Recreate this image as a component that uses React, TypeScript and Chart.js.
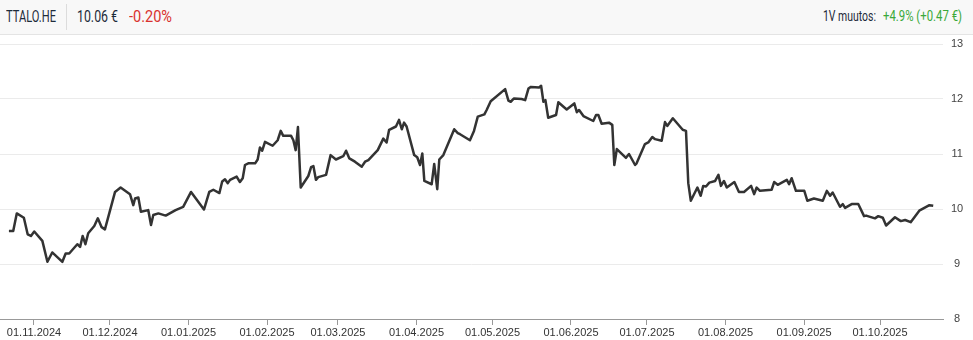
import React, { useEffect, useLayoutEffect, useRef } from "react";
import { Chart, registerables } from "chart.js";

Chart.register(...registerables);

// Day offsets from 01.11.2024 for each trading point shown
const days = [
  -9.9, -8.2, -6.8, -4.0, -2.5, -1.2, 0.1, 3.3, 5.3, 7.2, 11.2, 12.5, 13.9, 17.1, 18.2, 19.2, 20.3, 21.4, 23.8, 25.2,
  26.7, 28.0, 32.0, 34.2, 37.9, 39.2, 39.9, 41.2, 42.2, 45.1, 46.2, 47.1, 49.1, 52.0, 55.9, 58.9, 62.0, 67.1, 69.2, 70.8,
  73.2, 74.3, 75.4, 76.5, 77.4, 80.0, 81.3, 82.4, 83.3, 84.6, 87.3, 88.3, 89.2, 90.1, 91.2, 94.2, 96.2, 97.4, 98.4, 101.5,
  102.4, 103.3, 104.2, 105.3, 108.3, 109.4, 110.3, 111.3, 112.2, 115.3, 117.1, 119.2, 122.1, 123.2, 124.5, 126.7, 129.4, 130.7, 132.0, 135.7,
  137.9, 139.2, 140.2, 142.9, 144.1, 145.2, 146.1, 147.1, 150.1, 151.3, 152.4, 153.3, 154.1, 157.0, 158.0, 159.2, 160.0, 161.6, 165.9, 167.3,
  168.2, 172.1, 173.7, 175.2, 177.8, 178.7, 180.3, 186.0, 187.3, 188.2, 189.5, 192.5, 193.9, 195.2, 196.2, 199.4, 200.2, 201.1, 201.9, 203.0,
  206.1, 207.0, 210.3, 213.3, 214.3, 215.2, 216.9, 220.8, 221.9, 222.8, 224.1, 227.0, 228.3, 229.1, 230.1, 233.7, 234.9, 237.3, 237.9, 241.2,
  242.5, 244.1, 245.2, 247.8, 249.1, 250.0, 252.2, 256.1, 257.4, 258.3, 259.3, 261.9, 263.2, 264.2, 265.3, 266.6, 268.9, 270.2, 271.2, 272.4,
  273.5, 276.5, 278.3, 280.3, 283.1, 284.3, 285.3, 286.6, 291.2, 292.2, 293.6, 297.2, 298.1, 299.1, 300.8, 304.1, 305.3, 307.9, 311.4, 313.0,
  314.3, 315.3, 318.2, 319.3, 320.2, 322.8, 325.4, 327.7, 328.5, 332.0, 333.3, 335.1, 336.4, 339.9, 342.2, 343.9, 346.1, 349.5, 351.5, 353.5,
  355.0,
];

// Closing price, €
const prices = [
  9.60, 9.60, 9.92, 9.84, 9.54, 9.51, 9.59, 9.42, 9.04, 9.21, 9.04, 9.19, 9.19, 9.36, 9.31, 9.51, 9.36, 9.56, 9.69, 9.83,
  9.67, 9.63, 10.31, 10.39, 10.27, 10.07, 10.19, 10.21, 9.95, 9.98, 9.71, 9.89, 9.92, 9.88, 9.98, 10.04, 10.31, 9.99, 10.31, 10.35,
  10.29, 10.50, 10.54, 10.47, 10.53, 10.59, 10.49, 10.56, 10.80, 10.83, 10.83, 10.90, 11.12, 11.06, 11.22, 11.15, 11.25, 11.42, 11.33, 11.33,
  11.25, 11.07, 11.49, 10.39, 10.60, 10.76, 10.78, 10.53, 10.58, 10.62, 10.98, 10.90, 10.96, 11.06, 10.92, 10.86, 10.77, 10.86, 10.89, 11.07,
  11.28, 11.21, 11.44, 11.50, 11.62, 11.45, 11.57, 11.50, 10.98, 10.94, 10.80, 11.01, 10.51, 10.45, 10.82, 10.36, 10.90, 10.98, 11.45, 11.38,
  11.36, 11.25, 11.42, 11.68, 11.72, 11.80, 11.96, 12.18, 11.97, 11.95, 12.01, 12.00, 11.98, 12.19, 12.22, 12.21, 12.24, 11.95, 11.98, 11.66,
  11.71, 11.94, 11.81, 11.92, 11.76, 11.80, 11.69, 11.60, 11.71, 11.71, 11.55, 11.57, 11.53, 10.80, 11.09, 10.93, 11.00, 10.80, 10.83, 11.18,
  11.21, 11.31, 11.27, 11.24, 11.58, 11.51, 11.65, 11.44, 11.42, 10.47, 10.15, 10.39, 10.24, 10.42, 10.41, 10.48, 10.51, 10.62, 10.42, 10.51,
  10.39, 10.49, 10.31, 10.31, 10.42, 10.27, 10.39, 10.33, 10.35, 10.49, 10.44, 10.53, 10.45, 10.56, 10.33, 10.33, 10.15, 10.19, 10.15, 10.33,
  10.24, 10.30, 10.04, 10.09, 10.02, 10.09, 10.09, 9.87, 9.88, 9.83, 9.87, 9.84, 9.70, 9.85, 9.78, 9.80, 9.76, 9.97, 10.02, 10.07,
  10.06,
];

const tickLabels = [
  "01.11.2024", "01.12.2024", "01.01.2025", "01.02.2025", "01.03.2025", "01.04.2025",
  "01.05.2025", "01.06.2025", "01.07.2025", "01.08.2025", "01.09.2025", "01.10.2025",
];

const yTicks = [8, 9, 10, 11, 12, 13];

const symbol = "TTALO.HE";
const lastPrice = "10.06 €";
const dayChange = "-0.20%";
const yearLabel = "1V muutos:";
const yearChange = "+4.9% (+0.47 €)";

const DAY = 86400000;
const BASE = Date.UTC(2024, 10, 1);
const labelToDay = (s: string) => {
  const [d, m, y] = s.split(".").map(Number);
  return Math.round((Date.UTC(y, m - 1, d) - BASE) / DAY);
};
const tickDays = tickLabels.map(labelToDay);

const X_MIN = -13.42;
const X_MAX = 358.86;

function FitText(props: { text: string; left: number; width: number; top: number; size: number; color: string }) {
  const ref = useRef<HTMLSpanElement | null>(null);
  useLayoutEffect(() => {
    const el = ref.current;
    if (!el) return;
    el.style.transform = "none";
    const w = el.getBoundingClientRect().width;
    if (w > 0) el.style.transform = `scaleX(${props.width / w})`;
  }, [props.text, props.width]);
  return (
    <span
      ref={ref}
      style={{
        position: "absolute",
        left: props.left,
        top: props.top,
        fontSize: props.size,
        lineHeight: 1,
        color: props.color,
        whiteSpace: "nowrap",
        transformOrigin: "0 0",
        fontFamily: "Roboto, 'Noto Sans', sans-serif",
        fontWeight: 400,
      }}
    >
      {props.text}
    </span>
  );
}

export default function App() {
  const ref = useRef<HTMLCanvasElement | null>(null);

  useEffect(() => {
    document.body.style.margin = "0";
    if (!ref.current) return;
    const chart = new Chart(ref.current, {
      type: "line",
      data: {
        datasets: [
          {
            data: days.map((d, i) => ({ x: d, y: prices[i] })),
            borderColor: "#333333",
            borderWidth: 2.5,
            pointRadius: 0,
            tension: 0,
            borderJoinStyle: "round",
            fill: false,
          },
        ],
      },
      options: {
        animation: false,
        responsive: false,
        maintainAspectRatio: false,
        layout: { padding: { top: 9, left: 0, right: 0, bottom: 0 } },
        plugins: { legend: { display: false }, tooltip: { enabled: false } },
        scales: {
          x: {
            type: "linear",
            min: X_MIN,
            max: X_MAX,
            afterBuildTicks: (scale: any) => {
              scale.ticks = tickDays.map((v) => ({ value: v }));
            },
            afterFit: (scale: any) => {
              scale.height = 21;
            },
            ticks: {
              autoSkip: false,
              maxRotation: 0,
              padding: 1,
              color: "#333333",
              font: { family: "'Liberation Sans', Arial, sans-serif", size: 11 },
              callback: (v: any) => {
                const i = tickDays.indexOf(Number(v));
                return i >= 0 ? tickLabels[i] : "";
              },
            },
            grid: { drawOnChartArea: false, drawTicks: true, tickLength: 6, color: "#999999" },
            border: { display: true, color: "#999999", width: 1 },
          },
          y: {
            position: "right",
            min: 8,
            max: 13,
            afterBuildTicks: (scale: any) => {
              scale.ticks = yTicks.map((v) => ({ value: v }));
            },
            afterFit: (scale: any) => {
              scale.width = 30;
            },
            ticks: {
              color: "#444444",
              crossAlign: "center",
              padding: 0,
              font: { family: "'Liberation Sans', Arial, sans-serif", size: 11 },
            },
            grid: { color: "#ebebeb", drawTicks: true, tickLength: 8, tickColor: "rgba(0,0,0,0)", lineWidth: 1 },
            border: { display: false },
          },
        },
      },
    } as any);
    return () => chart.destroy();
  }, []);

  return (
    <div style={{ width: 973, height: 340, background: "#ffffff", overflow: "hidden" }}>
      <div
        style={{
          height: 35,
          boxSizing: "border-box",
          background: "#f8f8f8",
          borderBottom: "1px solid #e4e4e4",
          position: "relative",
        }}
      >
        <FitText text={symbol} left={6} width={50} top={9} size={16} color="#1d2b3a" />
        <span style={{ position: "absolute", left: 66, top: 4, width: 1, height: 26, background: "#dcdcdc" }} />
        <FitText text={lastPrice} left={77} width={41} top={9} size={16} color="#1d2b3a" />
        <FitText text={dayChange} left={129} width={43} top={9} size={16} color="#d9332f" />
        <FitText text={yearLabel} left={823} width={53} top={9} size={14} color="#1d2b3a" />
        <FitText text={yearChange} left={883} width={79} top={9} size={14} color="#3aa83a" />
      </div>
      <canvas ref={ref} width={973} height={305} style={{ display: "block", width: 973, height: 305 }} />
    </div>
  );
}
